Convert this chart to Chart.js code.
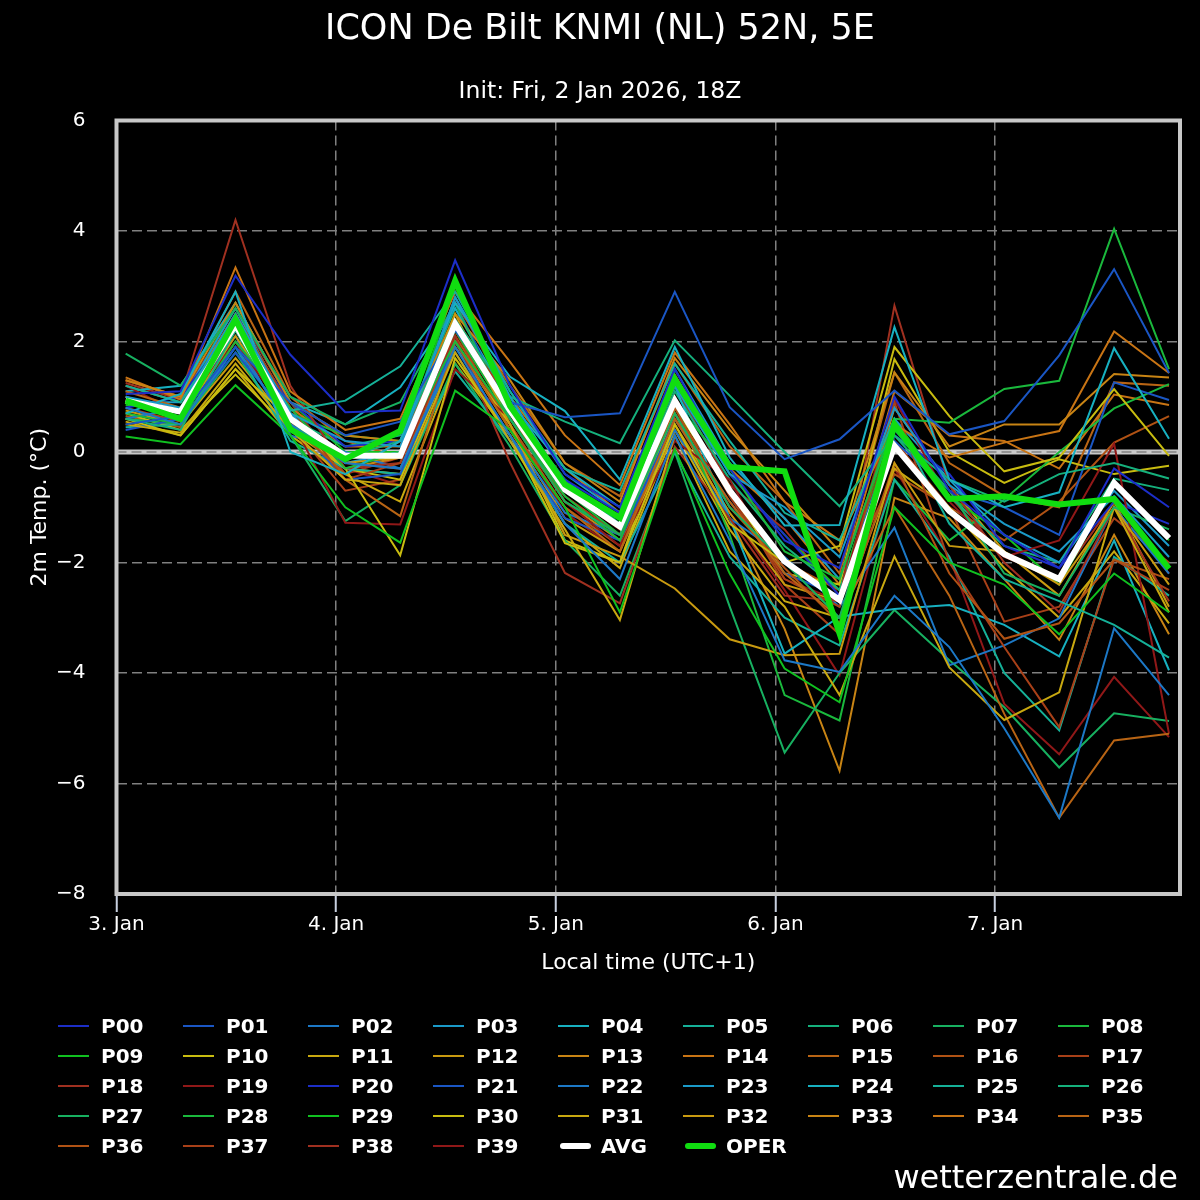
<!DOCTYPE html>
<html>
<head>
<meta charset="utf-8">
<title>ICON De Bilt KNMI (NL) 52N, 5E</title>
<script src="https://cdn.jsdelivr.net/npm/chart.js@4.4.1/dist/chart.umd.min.js"></script>
<style>
  html, body { margin: 0; padding: 0; background: #000; }
  #wrap { position: relative; width: 1200px; height: 1200px; overflow: hidden; background: #000; }
  #chart { position: absolute; left: 0; top: 0; }
  .leg { position: absolute; height: 24px; display: flex; align-items: center;
         font: bold 20px 'DejaVu Sans', sans-serif; color: #fff; white-space: nowrap; }
  .leg i { display: inline-block; }
  #brand { position: absolute; right: 22px; top: 1161px; font: 32px/1 'DejaVu Sans', sans-serif; color: #fff; }
</style>
</head>
<body>
<div id="wrap">
  <canvas id="chart" width="1200" height="1200"></canvas>
  <div id="legend"></div>
  <div id="brand">wetterzentrale.de</div>
</div>
<script>
// forecast steps, hours after 3 Jan 00:00 local time
const hours = [1, 7, 13, 19, 25, 31, 37, 43, 49, 55, 61, 67, 73, 79, 85, 91, 97, 103, 109, 115];
const dayHours = [0, 24, 48, 72, 96];
const dayTicks = ['3. Jan', '4. Jan', '5. Jan', '6. Jan', '7. Jan'];

// 2m temperature (°C) per ensemble member
const p00 = [1.05, 1.1, 3.19, 1.76, 0.72, 0.75, 3.47, 1.2, -0.4, -1.0, 1.5, -0.3, -1.6, -2.1, 1.0, -0.7, -1.5, -2.1, -0.3, -1.0];
const p01 = [0.5, 0.65, 1.9, 0.9, 0.3, 0.55, 2.2, 0.9, 0.63, 0.7, 2.9, 0.81, -0.13, 0.23, 1.11, 0.32, 0.56, 1.75, 3.31, 1.43];
const p02 = [0.8, 0.5, 1.9, 0.5, -0.2, -0.3, 1.9, 0.3, -1.3, -2.3, 0.3, -1.6, -3.77, -3.98, -2.6, -3.53, -5.0, -6.62, -3.19, -4.4];
const p03 = [1.0, 0.8, 2.5, 0.7, 0.2, 0.1, 2.8, 1.0, -0.6, -1.2, 1.2, -0.4, -1.0, -1.9, 0.8, -0.6, -1.3, -1.8, -0.8, -1.9];
const p04 = [0.7, 1.05, 2.9, 0.0, -0.4, 0.2, 2.7, 1.36, 0.74, -0.5, 1.9, -0.1, -1.33, -1.32, 2.26, -0.5, -1.0, -0.73, 1.88, 0.24];
const p05 = [1.2, 0.9, 2.4, 0.75, 0.93, 1.55, 2.9, 1.1, -0.3, -0.7, 1.6, 0.2, -1.1, -1.6, 0.6, -1.3, -2.3, -2.7, -3.13, -3.72];
const p06 = [0.6, 0.4, 2.2, 0.5, -0.1, 0.2, 2.4, 1.0, 0.55, 0.16, 2.02, 1.02, 0.0, -0.98, 0.3, -0.5, -0.9, -0.4, -0.2, -0.48];
const p07 = [1.78, 1.2, 2.6, 1.0, 0.5, 0.9, 2.7, 0.6, -0.9, -1.5, 0.7, -1.0, -2.0, -3.0, 0.4, -0.7, -2.2, -2.6, -1.0, -1.4];
const p08 = [0.7, 0.5, 2.0, 0.8, -0.3, 0.0, 2.0, 0.6, -0.8, -1.6, 0.9, -0.3, -1.8, -2.3, 0.6, 0.53, 1.14, 1.29, 4.04, 1.5];
const p09 = [0.28, 0.14, 1.21, 0.3, -1.0, -1.64, 1.11, 0.4, -1.0, -2.9, 0.05, -2.2, -3.92, -4.53, -1.0, -2.0, -2.4, -3.3, -2.2, -2.9];
const p10 = [0.6, 0.3, 1.5, 0.6, -0.3, -1.87, 1.7, 0.3, -1.65, -2.0, 0.5, -1.3, -2.0, -1.7, 1.9, 0.65, -0.35, -0.1, 1.14, -0.07];
const p11 = [0.5, 0.35, 1.6, 0.4, -0.5, -0.6, 1.8, 0.2, -1.4, -3.04, 0.3, -1.8, -2.8, -4.4, -1.89, -3.9, -4.85, -4.35, -1.0, -2.9];
const p12 = [0.9, 0.6, 2.1, 0.6, -0.2, -0.1, 2.5, 0.5, -1.5, -1.89, -2.47, -3.39, -3.68, -3.65, -0.2, -1.7, -1.8, -2.4, -1.0, -2.4];
const p13 = [1.3, 1.0, 2.7, 0.9, 0.3, 0.2, 2.5, 1.3, -0.2, -0.9, 1.7, 0.4, -0.7, -1.8, 1.44, 0.1, 0.5, 0.5, 1.41, 1.35];
const p14 = [1.35, 0.95, 3.34, 1.1, 0.4, 0.6, 2.9, 1.63, 0.3, -0.6, 1.8, 0.5, -0.9, -1.6, 0.5, -0.1, 0.17, 0.38, 2.18, 1.43];
const p15 = [1.1, 0.8, 2.3, 0.4, -0.5, -1.16, 2.0, 0.4, -1.0, -1.8, 0.6, -0.9, -2.2, -3.0, -1.0, -2.6, -4.74, -6.62, -5.22, -5.1];
const p16 = [1.0, 0.7, 2.2, 0.5, -0.4, 0.2, 2.3, 0.7, -0.9, -1.5, 0.8, -1.0, -2.1, -3.1, -0.2, -2.2, -3.38, -3.1, -1.95, -2.3];
const p17 = [0.9, 0.6, 2.5, 0.8, -0.5, -0.2, 2.4, 0.9, -0.7, -1.4, 1.0, -0.8, -2.3, -2.8, 0.9, -2.0, -3.53, -4.98, -1.95, -2.5];
const p18 = [1.3, 1.0, 4.2, 1.2, -0.3, -0.2, 2.1, -0.19, -2.19, -2.74, 0.1, -1.2, -2.6, -2.7, 2.65, -0.6, -2.0, -2.9, -1.0, -2.7];
const p19 = [1.2, 0.7, 2.0, 0.6, -1.28, -1.31, 1.5, 0.6, -0.9, -1.7, 0.2, -0.5, -2.3, -2.7, 0.96, -0.9, -1.9, -1.6, 0.15, -5.1];
const p20 = [0.8, 1.0, 2.3, 0.9, 0.1, 0.2, 2.7, 0.7, -0.5, -1.1, 1.3, -0.4, -1.5, -2.6, 0.3, -0.4, -1.7, -2.1, -0.9, -1.3];
const p21 = [0.4, 0.6, 1.8, 0.6, -0.5, -0.4, 2.0, 0.2, -1.2, -1.6, 0.6, -0.9, -2.2, -2.6, 0.2, -0.7, -1.0, -1.5, 1.26, 0.94];
const p22 = [0.6, 0.8, 2.1, 0.3, 0.0, -0.3, 1.8, 0.3, -1.1, -1.5, 0.4, -1.2, -1.9, -2.8, -1.37, -3.86, -3.5, -3.01, -1.0, -2.2];
const p23 = [0.9, 0.9, 2.6, 0.7, -0.2, 0.0, 2.8, 1.1, -0.4, -1.1, 1.5, -0.2, -1.2, -2.3, 0.6, -0.5, -1.5, -2.0, -0.7, -1.7];
const p24 = [1.1, 1.2, 2.7, 0.9, 0.5, 1.17, 2.6, 0.9, -0.3, -1.0, 1.2, -1.2, -3.65, -2.98, -2.84, -2.77, -3.13, -3.7, -1.6, -3.95];
const p25 = [0.45, 0.5, 1.9, 0.2, -0.3, -0.4, 1.46, 0.2, -1.3, -2.0, 0.0, -1.9, -3.0, -3.5, -0.5, -1.9, -4.0, -5.04, -1.9, -2.6];
const p26 = [0.9, 0.7, 2.3, 0.6, 0.1, 0.3, 2.6, 0.8, -0.5, -1.3, 1.1, -0.5, -1.7, -2.5, 0.3, -0.8, -1.7, -2.0, -0.48, -0.69];
const p27 = [0.6, 0.5, 1.8, 0.3, -1.25, -0.6, 1.6, 0.1, -1.6, -2.6, 0.0, -2.8, -5.44, -4.0, -2.86, -3.77, -4.62, -5.71, -4.73, -4.87];
const p28 = [1.0, 0.6, 2.4, 0.7, 0.3, 0.2, 2.2, 0.6, -0.7, -1.5, 0.9, -1.5, -4.4, -4.86, -0.5, -1.6, -0.86, 0.0, 0.79, 1.23];
const p29 = [0.85, 0.8, 2.7, 0.9, 0.0, 0.0, 3.0, 1.0, -0.6, -1.3, 1.3, -0.4, -1.5, -2.5, 0.6, -0.8, -1.5, -2.4, -0.6, -1.6];
const p30 = [0.7, 0.4, 1.4, 0.4, -0.3, -0.5, 1.9, 0.5, -1.6, -2.0, 0.8, -0.7, -2.2, -2.4, 1.68, 0.0, -0.56, -0.13, -0.4, -0.25];
const p31 = [0.55, 0.3, 1.5, 0.3, -0.4, -0.9, 1.6, 0.3, -1.3, -2.1, 0.4, -1.4, -2.7, -3.0, -0.3, -1.0, -2.1, -3.0, -1.8, -3.1];
const p32 = [0.75, 0.5, 1.7, 0.5, -0.3, -0.4, 2.0, 0.4, -1.2, -1.8, 0.5, -1.1, -2.4, -2.7, 0.8, -0.6, -1.8, -2.6, -0.9, -2.8];
const p33 = [1.0, 0.6, 2.4, 0.7, -0.3, -0.1, 2.3, 0.6, -0.9, -1.6, 0.7, -1.2, -3.2, -5.77, -0.83, -1.2, -2.3, -3.4, -1.5, -3.3];
const p34 = [1.2, 0.9, 2.5, 0.8, 0.1, 0.1, 2.4, 1.0, -0.3, -1.1, 1.4, -0.3, -1.2, -2.4, 1.1, 0.3, 0.2, -0.3, 1.04, 0.85];
const p35 = [1.3, 1.0, 2.9, 1.0, 0.2, -0.1, 2.7, 1.2, -0.2, -0.8, 1.6, 0.1, -0.9, -2.2, 1.44, -0.2, -0.8, -1.0, 1.26, 1.2];
const p36 = [0.65, 0.45, 2.0, 0.4, -0.2, -0.3, 2.1, 0.5, -1.0, -1.7, 0.6, -1.0, -2.0, -2.5, -0.4, -1.0, -1.6, -0.9, 0.17, 0.65];
const p37 = [0.8, 0.55, 2.3, 0.5, -0.7, -0.5, 2.2, 0.4, -0.8, -1.5, 0.7, -0.7, -2.4, -3.3, 0.2, -1.0, -3.07, -2.8, -1.2, -2.0];
const p38 = [1.25, 0.95, 2.6, 0.9, -0.4, -0.1, 2.8, 0.9, -0.6, -1.3, 1.2, -0.6, -1.4, -2.6, 0.5, -0.8, -1.9, -2.3, -0.9, -2.2];
const p39 = [0.95, 0.6, 2.2, 0.7, -0.3, -0.6, 2.0, 0.5, -1.1, -1.8, 0.4, -1.1, -2.5, -4.04, -0.3, -1.9, -4.56, -5.47, -4.07, -5.16];

const avg  = [0.93, 0.73, 2.3, 0.6, -0.07, -0.07, 2.32, 0.75, -0.68, -1.35, 0.93, -0.7, -1.98, -2.68, 0.11, -1.07, -1.85, -2.3, -0.56, -1.56];
const oper = [0.93, 0.6, 2.4, 0.41, -0.13, 0.38, 3.1, 0.83, -0.59, -1.19, 1.32, -0.27, -0.35, -3.28, 0.5, -0.85, -0.8, -0.95, -0.85, -2.11];

const memberSeries = [p00, p01, p02, p03, p04, p05, p06, p07, p08, p09,
                      p10, p11, p12, p13, p14, p15, p16, p17, p18, p19,
                      p20, p21, p22, p23, p24, p25, p26, p27, p28, p29,
                      p30, p31, p32, p33, p34, p35, p36, p37, p38, p39];
const memberNames = ['P00', 'P01', 'P02', 'P03', 'P04', 'P05', 'P06', 'P07', 'P08', 'P09',
                     'P10', 'P11', 'P12', 'P13', 'P14', 'P15', 'P16', 'P17', 'P18', 'P19',
                     'P20', 'P21', 'P22', 'P23', 'P24', 'P25', 'P26', 'P27', 'P28', 'P29',
                     'P30', 'P31', 'P32', 'P33', 'P34', 'P35', 'P36', 'P37', 'P38', 'P39'];

// member colours repeat every 20 members
const palette = ['#1c2ec8', '#1a56c4', '#1c78c6', '#1a9ac8', '#17b0c0', '#15b098', '#15b07c', '#17b060', '#1ab83c', '#10c020',
                 '#c8bc10', '#c8a810', '#c89a10', '#c88414', '#c87414', '#b86414', '#b05214', '#a84018', '#a03020', '#901818'];

const FONT = "'DejaVu Sans', sans-serif";

const toPoints = (values) => values.map((v, i) => ({ x: hours[i], y: v }));

const datasets = memberSeries.map((s, i) => ({
  label: memberNames[i],
  data: toPoints(s),
  borderColor: palette[i % 20],
  borderWidth: 2,
  order: 2
}));
datasets.push({ label: 'AVG', data: toPoints(avg), borderColor: '#ffffff', borderWidth: 6, order: 1 });
datasets.push({ label: 'OPER', data: toPoints(oper), borderColor: '#10dd10', borderWidth: 6, order: 0 });

// zero line under the data, frame over it
const framePlugin = {
  id: 'frame',
  beforeDatasetsDraw(chart) {
    const { ctx, chartArea: a } = chart;
    const y0 = chart.scales.y.getPixelForValue(0);
    ctx.save();
    ctx.strokeStyle = '#c8c8c8';
    ctx.lineWidth = 5;
    ctx.beginPath(); ctx.moveTo(a.left, y0); ctx.lineTo(a.right, y0); ctx.stroke();
    ctx.strokeStyle = '#808080';
    ctx.lineWidth = 1.5;
    ctx.setLineDash([10, 5]);
    ctx.beginPath(); ctx.moveTo(a.left, y0); ctx.lineTo(a.right, y0); ctx.stroke();
    ctx.restore();
  },
  afterDatasetsDraw(chart) {
    const { ctx, chartArea: a } = chart;
    ctx.save();
    ctx.strokeStyle = '#c8c8c8';
    ctx.lineWidth = 4;
    ctx.strokeRect(a.left, a.top, a.right - a.left, a.bottom - a.top);
    ctx.restore();
  }
};

const chart = new Chart(document.getElementById('chart').getContext('2d'), {
  type: 'line',
  data: { datasets },
  options: {
    responsive: false,
    animation: false,
    events: [],
    elements: { point: { radius: 0 }, line: { tension: 0 } },
    layout: { padding: { left: 0, right: 0, top: 0, bottom: 224 } },
    plugins: {
      legend: { display: false },
      tooltip: { enabled: false },
      title: {
        display: true,
        text: 'ICON De Bilt KNMI (NL) 52N, 5E',
        color: '#ffffff',
        font: { family: FONT, size: 35, weight: 'normal' },
        padding: { top: 9, bottom: 0 }
      },
      subtitle: {
        display: true,
        text: 'Init: Fri, 2 Jan 2026, 18Z',
        color: '#ffffff',
        font: { family: FONT, size: 23.5 },
        padding: { top: 26.4, bottom: 14.9 }
      }
    },
    scales: {
      x: {
        type: 'linear',
        min: 0,
        max: 116.2,
        afterBuildTicks: (scale) => { scale.ticks = dayHours.map(v => ({ value: v })); },
        afterFit: (scale) => { scale.height = 82; },
        ticks: {
          color: '#ffffff',
          font: { family: FONT, size: 20 },
          padding: 1,
          maxRotation: 0,
          autoSkip: false,
          callback: (value, index) => dayTicks[index]
        },
        grid: {
          color: '#808080',
          lineWidth: 1.5,
          tickLength: 18,
          tickColor: '#c8d0e0',
          tickWidth: 2,
          tickBorderDash: []
        },
        border: { display: false, dash: [10, 5] },
        title: {
          display: true,
          text: 'Local time (UTC+1)',
          color: '#ffffff',
          font: { family: FONT, size: 22 },
          padding: { top: 0, bottom: 0 }
        }
      },
      y: {
        min: -8,
        max: 6,
        afterFit: (scale) => { scale.width = 116.5; },
        ticks: {
          stepSize: 2,
          color: '#ffffff',
          font: { family: FONT, size: 20 },
          padding: 31,
          callback: (value) => String(value).replace('-', '\u2212')
        },
        grid: { color: '#808080', lineWidth: 1.5, drawTicks: false },
        border: { display: false, dash: [10, 5] },
        title: {
          display: true,
          text: '2m Temp. (°C)',
          color: '#ffffff',
          font: { family: FONT, size: 22 },
          padding: { top: 27, bottom: 0 }
        }
      },
      // empty right-hand margin so the titles centre on the full width
      yRight: {
        position: 'right',
        display: true,
        ticks: { display: false },
        grid: { display: false },
        border: { display: false },
        afterFit: (scale) => { scale.width = 20; }
      }
    }
  },
  plugins: [framePlugin]
});

// legend: 9 columns, built from the chart's datasets
const legend = document.getElementById('legend');
chart.data.datasets.forEach((ds, i) => {
  const col = i % 9;
  const row = Math.floor(i / 9);
  const item = document.createElement('div');
  item.className = 'leg';
  item.style.left = (58 + col * 125) + 'px';
  item.style.top = (1025.5 + row * 30 - 12) + 'px';
  const swatch = document.createElement('i');
  const thick = ds.borderWidth > 2;
  swatch.style.width = '31px';
  swatch.style.height = thick ? '6px' : '2px';
  swatch.style.marginLeft = thick ? '2px' : '0';
  swatch.style.marginRight = thick ? '10px' : '12px';
  swatch.style.borderRadius = thick ? '3px' : '0';
  swatch.style.background = ds.borderColor;
  item.appendChild(swatch);
  item.appendChild(document.createTextNode(ds.label));
  legend.appendChild(item);
});
</script>
</body>
</html>
